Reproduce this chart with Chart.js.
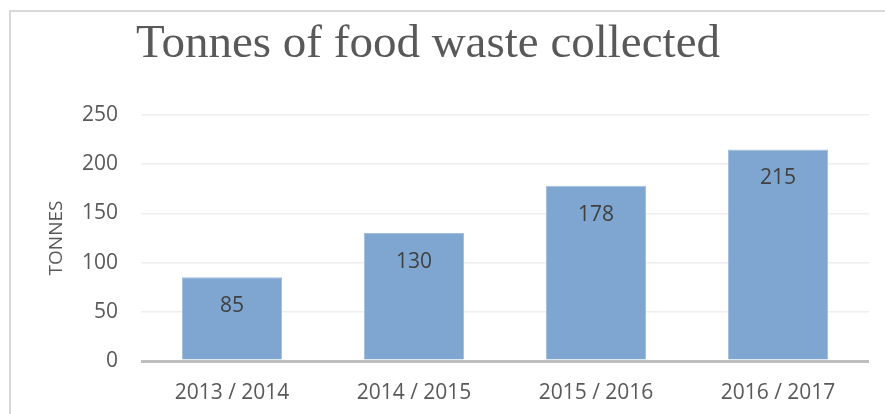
<!DOCTYPE html>
<html>
<head>
<meta charset="utf-8">
<script src="https://cdn.jsdelivr.net/npm/chart.js@4"></script>
<style>
  html, body { margin: 0; padding: 0; background: #fff; }
  #wrap { width: 885px; height: 414px; position: relative; }
</style>
</head>
<body>
<div id="wrap"><canvas id="chart"></canvas></div>
<script>
const seasons = ["2013 / 2014", "2014 / 2015", "2015 / 2016", "2016 / 2017"];
const tonnes = [85, 130, 178, 215];
const yTicks = [0, 50, 100, 150, 200, 250];

const chartTitle = "Tonnes of food waste collected";
const axisLabel = "TONNES";

const textGrey = "#595959";
const barBlue = "#7fa6d0";

// frame lines and title, drawn the way the original sheet chart has them
const framePlugin = {
  id: "frame",
  beforeDraw(chart) {
    const ctx = chart.ctx;
    ctx.save();
    ctx.strokeStyle = "#d9d9d9";
    ctx.lineWidth = 2;
    ctx.beginPath();
    ctx.moveTo(10, 414);
    ctx.lineTo(10, 11);
    ctx.lineTo(885, 11);
    ctx.stroke();
    ctx.restore();
  },
  afterDraw(chart) {
    const ctx = chart.ctx;
    ctx.save();
    ctx.fillStyle = textGrey;
    ctx.font = "47px 'Liberation Serif'";
    ctx.textAlign = "center";
    ctx.textBaseline = "alphabetic";
    ctx.fillText(chartTitle, 428, 57);
    ctx.restore();
  },
};

const valueLabels = {
  id: "valueLabels",
  afterDatasetsDraw(chart) {
    const ctx = chart.ctx;
    const meta = chart.getDatasetMeta(0);
    ctx.save();
    ctx.fillStyle = "#404040";
    ctx.font = "21px 'Open Sans'";
    ctx.textAlign = "center";
    ctx.textBaseline = "middle";
    meta.data.forEach((bar, i) => {
      ctx.fillText(String(tonnes[i]), bar.x, bar.y + 29);
    });
    ctx.restore();
  },
};

const ctx = document.getElementById("chart");
const chart = new Chart(ctx, {
  type: "bar",
  data: {
    labels: seasons,
    datasets: [
      {
        label: "Tonnes",
        data: tonnes,
        backgroundColor: barBlue,
        borderColor: "#a3bedd",
        borderWidth: 1,
        categoryPercentage: 1,
        barPercentage: 0.55,
      },
    ],
  },
  options: {
    responsive: true,
    maintainAspectRatio: false,
    animation: false,
    layout: {
      padding: { top: 115, right: 16, bottom: 9, left: 0 },
    },
    plugins: {
      legend: { display: false },
      tooltip: { enabled: false },
      title: { display: false },
    },
    scales: {
      x: {
        afterFit(scale) {
          scale.height = 44;
        },
        grid: { display: false, drawTicks: false },
        border: { display: false },
        ticks: {
          color: textGrey,
          padding: 19,
          font: { family: "'Open Sans'", size: 21 },
          maxRotation: 0,
        },
      },
      y: {
        min: 0,
        max: 250,
        afterFit(scale) {
          scale.width = 141;
        },
        afterBuildTicks(scale) {
          scale.ticks = yTicks.map((v) => ({ value: v }));
        },
        grid: {
          drawTicks: false,
          color: (c) => (c.tick && c.tick.value === 0 ? "#bfbfbf" : "#eeeeee"),
          lineWidth: (c) => (c.tick && c.tick.value === 0 ? 3 : 1.5),
        },
        border: { display: false },
        ticks: {
          color: textGrey,
          padding: 23,
          font: { family: "'Open Sans'", size: 21 },
        },
        title: {
          display: true,
          text: axisLabel,
          color: textGrey,
          font: { family: "'Open Sans'", size: 19 },
          padding: { top: 45, bottom: 0 },
        },
      },
    },
  },
  plugins: [framePlugin, valueLabels],
});
</script>
</body>
</html>
